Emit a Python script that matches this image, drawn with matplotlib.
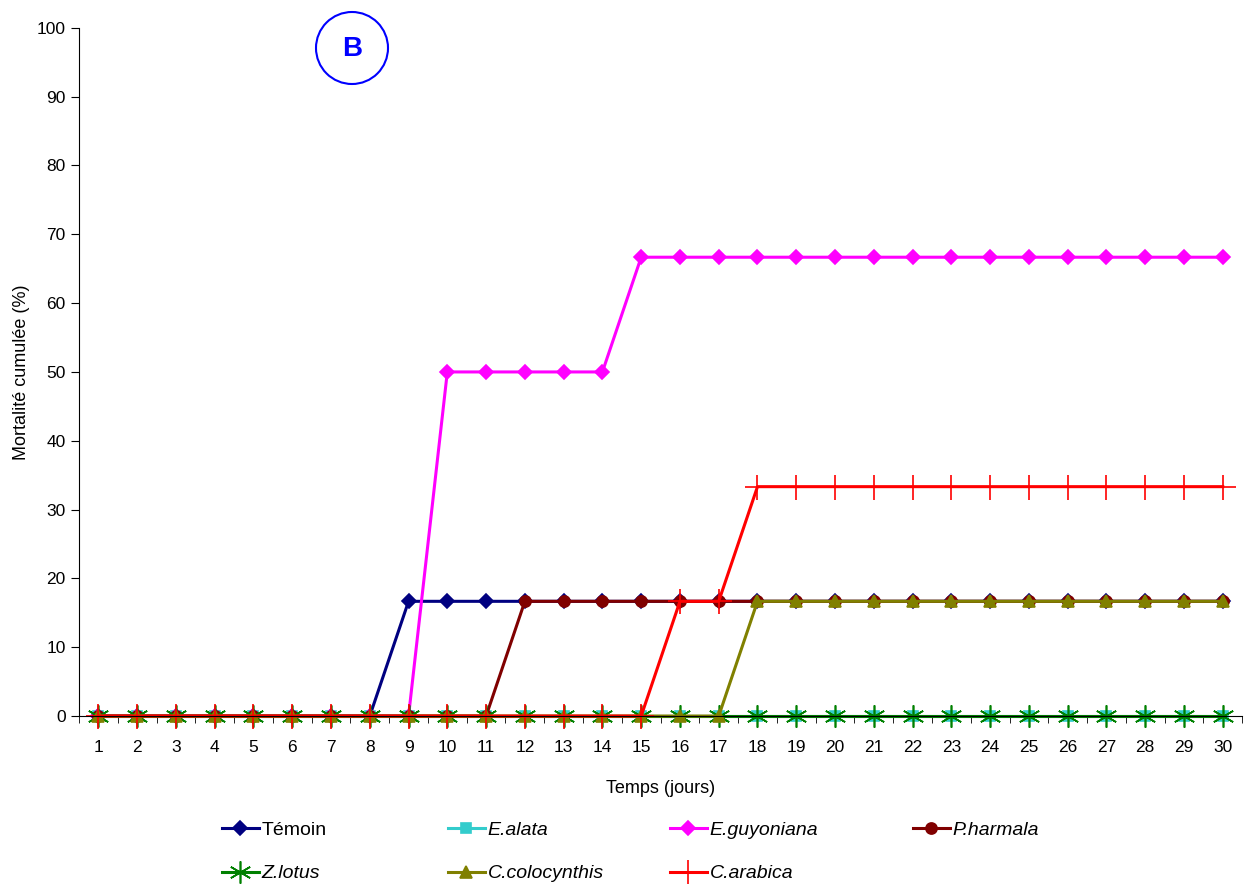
import numpy as np
import matplotlib.pyplot as plt
from matplotlib.patches import Circle

plt.rcParams['font.family'] = ['Liberation Sans', 'DejaVu Sans']

days = np.arange(1, 31)

temoin = [0]*8 + [16.67]*22
e_alata = [0]*30
e_guyoniana = [0]*9 + [50]*5 + [66.67]*16
p_harmala = [0]*11 + [16.67]*19
z_lotus = [0]*30
c_colocynthis = [0]*17 + [16.67]*13
c_arabica = [0]*15 + [16.67]*2 + [33.33]*13

series = [
    ('Témoin', temoin, '#000080', 'D', 7),
    ('E.alata', e_alata, '#33CCCC', 's', 7),
    ('E.guyoniana', e_guyoniana, '#FF00FF', 'D', 7),
    ('P.harmala', p_harmala, '#800000', 'o', 8),
    ('Z.lotus', z_lotus, '#008000', (6, 2, 0), 16),
    ('C.colocynthis', c_colocynthis, '#808000', '^', 9),
    ('C.arabica', c_arabica, '#FF0000', '+', 18),
]

fig = plt.figure(figsize=(12.44, 8.84), dpi=100)
ax = fig.add_axes([0.0635, 0.19, 0.935, 0.7785])

lines = {}
for name, vals, col, mk, ms in series:
    ln, = ax.plot(days, vals, color=col, marker=mk, markersize=ms, linewidth=2.2,
                  markeredgewidth=1.2, label=name, clip_on=False)
    lines[name] = ln

ax.set_xlim(0.5, 30.5)
ax.set_ylim(0, 100)
ax.set_yticks(np.arange(0, 101, 10))
ax.set_xticks(days)
ax.set_xticks(np.arange(0.5, 31, 1), minor=True)
ax.tick_params(axis='x', which='major', length=0, pad=17, labelsize=12.5)
ax.tick_params(axis='x', which='minor', length=5, direction='out')
ax.tick_params(axis='y', length=6, direction='out', labelsize=12.5)
for s in ['top', 'right']:
    ax.spines[s].set_visible(False)

ax.set_xlabel('Temps (jours)', fontsize=13, labelpad=18)
ax.set_ylabel('Mortalité cumulée (%)', fontsize=13, labelpad=5)

# panel letter in a circle
circ = Circle((352, 884 - 48), 36, transform=None, fill=False,
              edgecolor='#0000FF', linewidth=1.5)
fig.patches.append(circ)
fig.text(352 / 1244, 1 - 49 / 884, 'B', color='#0000FF', fontsize=20,
         fontweight='bold', ha='center', va='center')

# legend: one small legend per column so the columns sit evenly
columns = [['Témoin', 'Z.lotus'], ['E.alata', 'C.colocynthis'],
           ['E.guyoniana', 'C.arabica'], ['P.harmala']]
col_x = [222, 448, 670, 913]
for names, x in zip(columns, col_x):
    leg = fig.legend([lines[n] for n in names], names, loc='upper left',
                     bbox_to_anchor=(x / 1244, 1 - 821 / 884),
                     frameon=False, fontsize=14, handlelength=1.9,
                     handletextpad=0.15, labelspacing=1.35, borderpad=0,
                     borderaxespad=0)
    for t in leg.get_texts():
        if t.get_text() != 'Témoin':
            t.set_fontstyle('italic')

fig.savefig('out.png', dpi=100)
